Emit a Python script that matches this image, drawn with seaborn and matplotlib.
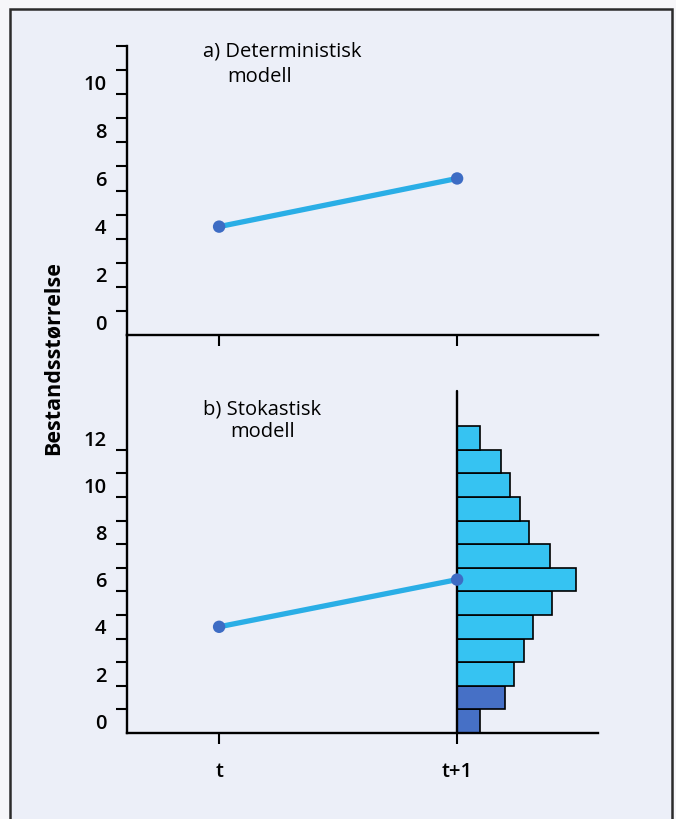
import numpy as np
import matplotlib
matplotlib.use("Agg")
import matplotlib.pyplot as plt
from matplotlib.patches import Rectangle
from matplotlib.ticker import FixedLocator
import seaborn as sns

sns.set_style("ticks")
plt.rcParams["font.family"] = ["Open Sans", "DejaVu Sans"]
plt.rcParams.update({"text.color": "black", "xtick.color": "black",
                     "ytick.color": "black", "axes.labelcolor": "black"})

# --- data -------------------------------------------------------------
time_steps = [0, 1]
time_labels = ["t", "t+1"]
det_population = [4, 6]          # deterministic model: t -> t+1
sto_population = [4, 6]          # stochastic model: expected path
size_classes = list(range(13))   # population size classes 0..12 at t+1
# share of simulated outcomes (%) in each size class at t+1
class_share = [2.8, 5.8, 6.8, 8.0, 9.1, 11.4, 14.3, 11.2, 8.6, 7.6, 6.4, 5.3, 2.8]
extinction_classes = [0, 1]      # classes drawn in the darker shade

panel_a_title = ["a) Deterministisk", "modell"]
panel_b_title = ["b) Stokastisk", "modell"]
y_title = "Bestandsstørrelse"

# --- style ------------------------------------------------------------
W, H = 676, 819
LINE_C = "#2aaee6"
POINT_C = "#3d6cc4"
BAR_C = "#36c3f2"
BAR_DARK = "#4670c6"
BG = "#eceff8"
share_to_x = 0.035               # horizontal length of 1 % in time units
TICK_FS = 14.5
TITLE_FS = 14.5

fig = plt.figure(figsize=(W / 100, H / 100), dpi=100)
fig.patch.set_facecolor("#f6f6f9")
fig.patches.append(Rectangle((10 / W, -0.05), (672 - 10) / W, 1 - 9 / H + 0.05,
                             transform=fig.transFigure, facecolor=BG,
                             edgecolor="#2b2b2b", linewidth=1.8, zorder=-10))

def px_axes(left, top, right, bottom):
    ax = fig.add_axes([left / W, 1 - bottom / H, (right - left) / W, (bottom - top) / H])
    ax.set_zorder(5)
    return ax

xlim = (-0.387, 1.592)
tick_kw = dict(direction="out", width=1.5, color="black")

def style_axes(ax, ylabels):
    ax.set_facecolor("none")
    ax.set_xlim(*xlim)
    for s in ("top", "right"):
        ax.spines[s].set_visible(False)
    for s in ("left", "bottom"):
        ax.spines[s].set_linewidth(1.7)
        ax.spines[s].set_color("black")
    ax.yaxis.set_major_locator(FixedLocator(ylabels))
    ax.set_yticklabels([str(v) for v in ylabels], fontweight="semibold")
    ax.tick_params(axis="y", which="major", length=0, pad=15, labelsize=TICK_FS)
    ax.tick_params(axis="y", which="minor", length=8, **tick_kw)
    ax.set_xticks(time_steps)
    ax.tick_params(axis="x", which="major", length=8, **tick_kw)
    ax.set_xlabel("")
    ax.set_ylabel("")

# --- panel a: deterministic ------------------------------------------
ax1 = px_axes(127, 46, 598, 335)
ax1.set_ylim(-0.5, 11.5)
sns.lineplot(x=time_steps, y=det_population, ax=ax1, color=LINE_C, linewidth=3.8, zorder=3)
sns.scatterplot(x=time_steps, y=det_population, ax=ax1, color=POINT_C, s=80,
                edgecolor="none", zorder=4)
style_axes(ax1, list(range(0, 11, 2)))
ax1.yaxis.set_minor_locator(FixedLocator(np.arange(0.5, 11.6, 1.0)))
ax1.set_xticklabels([])

# --- panel b: stochastic ---------------------------------------------
ax2 = px_axes(127, 335, 598, 733)
ax2.set_ylim(-0.5, -0.5 + 398 / 23.6)
bar_colors = [BAR_DARK if c in extinction_classes else BAR_C for c in size_classes]
ax2.barh(size_classes, [v * share_to_x for v in class_share], left=time_steps[1],
         height=1.0, color=bar_colors, edgecolor="black", linewidth=1.2, zorder=2)
y0, y1 = ax2.get_ylim()
ax2.axvline(time_steps[1], ymin=0, ymax=(14.0 - y0) / (y1 - y0), color="black",
            linewidth=1.7, zorder=3)
sns.lineplot(x=time_steps, y=sto_population, ax=ax2, color=LINE_C, linewidth=3.8, zorder=4)
sns.scatterplot(x=time_steps, y=sto_population, ax=ax2, color=POINT_C, s=80,
                edgecolor="none", zorder=5)
style_axes(ax2, list(range(0, 13, 2)))
ax2.yaxis.set_minor_locator(FixedLocator(np.arange(0.5, 11.6, 1.0)))
ax2.set_xticklabels(time_labels, fontsize=TICK_FS, fontweight="semibold")
ax2.tick_params(axis="x", pad=13)

# --- texts ------------------------------------------------------------
def fig_text(x, y, s, **kw):
    fig.text(x / W, 1 - y / H, s, **kw)

fig_text(203, 52, panel_a_title[0], fontsize=TITLE_FS, va="center", ha="left",
         fontweight="medium")
fig_text(227, 77, panel_a_title[1], fontsize=TITLE_FS, va="center", ha="left",
         fontweight="medium")
fig_text(203, 409, panel_b_title[0], fontsize=TITLE_FS, va="center", ha="left",
         fontweight="medium")
fig_text(230, 432, panel_b_title[1], fontsize=TITLE_FS, va="center", ha="left",
         fontweight="medium")
fig_text(53, 358, y_title, fontsize=15.5, fontweight="bold", rotation=90,
         va="center", ha="center")

fig.savefig("out.png", dpi=100, facecolor=fig.get_facecolor())
